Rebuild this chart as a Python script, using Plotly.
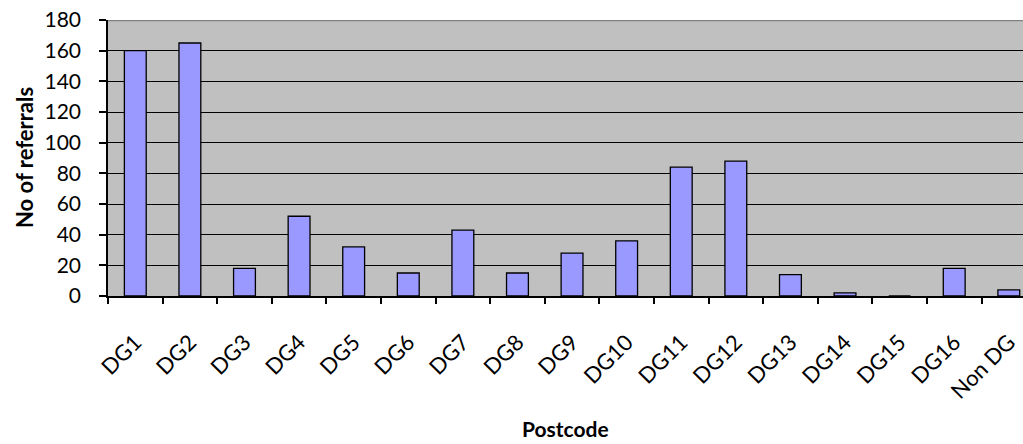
import plotly.graph_objects as go

categories = ["DG1", "DG2", "DG3", "DG4", "DG5", "DG6", "DG7", "DG8", "DG9",
              "DG10", "DG11", "DG12", "DG13", "DG14", "DG15", "DG16", "Non DG"]
referrals = [160, 165, 18, 52, 32, 15, 43, 15, 28, 36, 84, 88, 14, 2, 0, 18, 4]
y_ticks = [0, 20, 40, 60, 80, 100, 120, 140, 160, 180]

FONT = "Lato, Carlito, Calibri, sans-serif"

fig = go.Figure()
fig.add_trace(go.Bar(
    x=categories, y=referrals, width=0.4,
    marker=dict(color="#9999FF", line=dict(color="black", width=1.3)),
))

fig.update_layout(
    width=1023, height=444,
    margin=dict(l=108, r=0, t=20, b=148),
    paper_bgcolor="white", plot_bgcolor="#C0C0C0",
    showlegend=False,
    font=dict(family=FONT, size=20, color="black"),
    xaxis=dict(
        range=[-0.5, 16.26], tickangle=-45, tickson="boundaries",
        ticks="outside", ticklen=6, tickcolor="black", tickwidth=1.5,
        showline=True, linecolor="black", linewidth=1.5,
        showgrid=False, ticklabelstandoff=23, tickfont=dict(size=22, family=FONT),
    ),
    yaxis=dict(
        range=[0, 180], tickvals=y_ticks, ticks="outside", ticklen=7,
        tickcolor="black", tickwidth=1.5, showline=True, linecolor="black",
        linewidth=1.5, showgrid=True, gridcolor="black", gridwidth=1.2,
        zeroline=False, ticklabelstandoff=14, tickfont=dict(size=21, family=FONT),
    ),
    annotations=[
        dict(text="<b>No of referrals</b>", xref="paper", yref="paper", x=0, y=0.5,
             xanchor="center", yanchor="middle", xshift=-84, textangle=-90,
             showarrow=False, font=dict(size=22, family=FONT)),
        dict(text="<b>Postcode</b>", xref="paper", yref="paper", x=0.5, y=0,
             xanchor="center", yanchor="middle", yshift=-132,
             showarrow=False, font=dict(size=21, family=FONT)),
    ],
    shapes=[
        dict(type="line", xref="paper", yref="y", x0=0, x1=1, y0=180, y1=180,
             line=dict(color="#808080", width=2.5)),
    ],
)

fig.write_html("out.html")
